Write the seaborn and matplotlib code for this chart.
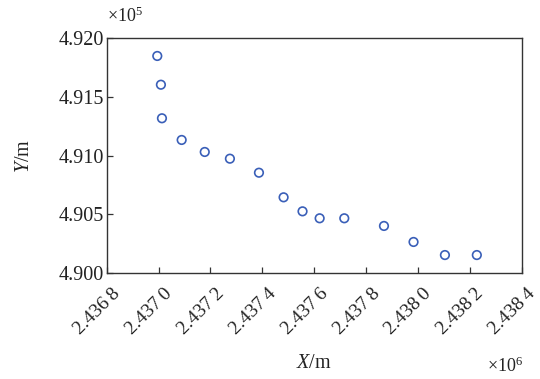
import numpy as np
import pandas as pd
import matplotlib
matplotlib.use("Agg")
import matplotlib.pyplot as plt
import matplotlib.transforms as mtransforms
from matplotlib.ticker import FuncFormatter
import seaborn as sns

# Point coordinates (metres)
x_vals = [2436995, 2437009, 2437013, 2437089, 2437178, 2437275, 2437387,
          2437482, 2437555, 2437621, 2437716, 2437869, 2437983, 2438104,
          2438227]
y_vals = [491845, 491601, 491316, 491132, 491030, 490973, 490854,
          490645, 490526, 490467, 490467, 490402, 490266, 490155,
          490155]

x_ticks = [2436800, 2437000, 2437200, 2437400, 2437600, 2437800,
           2438000, 2438200, 2438400]
y_ticks = [490000, 490500, 491000, 491500, 492000]

sns.set_style("white")
plt.rcParams['font.family'] = ['Liberation Serif', 'DejaVu Serif']
plt.rcParams['mathtext.fontset'] = 'custom'
plt.rcParams['mathtext.rm'] = 'Liberation Serif'
plt.rcParams['mathtext.it'] = 'Liberation Serif:italic'

df = pd.DataFrame({'X': x_vals, 'Y': y_vals})

fig = plt.figure(figsize=(5.4, 3.79), dpi=100)
ax = fig.add_axes([0.1976, 0.2789, 0.9661 - 0.1976, 0.9005 - 0.2789])

sns.scatterplot(data=df, x='X', y='Y', ax=ax, marker='o', s=38,
                facecolor='none', edgecolor='#3a5fb8', linewidth=1.2)

ax.set_xlim(x_ticks[0], x_ticks[-1])
ax.set_ylim(y_ticks[0], y_ticks[-1])
ax.set_xticks(x_ticks)
ax.set_yticks(y_ticks)


def fmt_x(v, pos):
    s = f"{v / 1e6:.4f}"
    return s[:-1] + "\u2009" + s[-1]


def fmt_y(v, pos):
    return f"{v / 1e5:.3f}"


ax.xaxis.set_major_formatter(FuncFormatter(fmt_x))
ax.yaxis.set_major_formatter(FuncFormatter(fmt_y))

for sp in ax.spines.values():
    sp.set_color('#333333')
    sp.set_linewidth(1.0)

ax.tick_params(axis='both', direction='in', length=4, width=0.9,
               bottom=True, left=True, top=False, right=False,
               color='#333333', labelsize=14.5, labelcolor='#222222')
ax.tick_params(axis='y', pad=2)
ax.tick_params(axis='x', pad=0, labelsize=14)

# rotated x labels sit a bit right of and below their ticks
shift = mtransforms.ScaledTranslation(0.05, -0.12, fig.dpi_scale_trans)
for lab in ax.get_xticklabels():
    lab.set_rotation(45)
    lab.set_ha('right')
    lab.set_va('top')
    lab.set_rotation_mode('anchor')
    lab.set_transform(lab.get_transform() + shift)

ax.set_xlabel(r'$\it{X}$/m', fontsize=14.5, color='#222222')
ax.xaxis.label.set_va('center')
ax.xaxis.set_label_coords(0.5, -0.385)
ax.set_ylabel(r'$\it{Y}$/m', fontsize=14.5, color='#222222')
ax.yaxis.label.set_va('center')
ax.yaxis.set_label_coords(-0.198, 0.5)

fig.text(0.198, 0.958, r'$\times10^{5}$', fontsize=13, color='#222222',
         ha='left', va='center')
fig.text(0.968, 0.034, r'$\times10^{6}$', fontsize=13, color='#222222',
         ha='right', va='center')

fig.savefig('out.png', dpi=100)
